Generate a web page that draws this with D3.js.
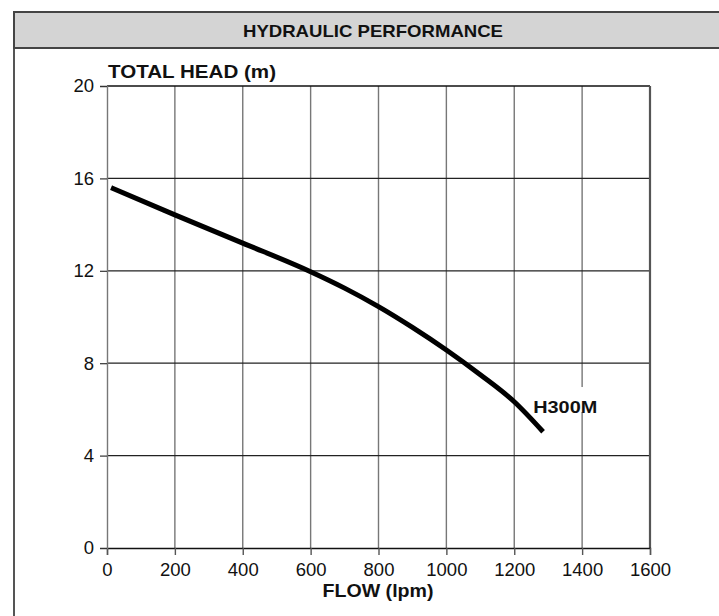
<!DOCTYPE html>
<html>
<head>
<meta charset="utf-8">
<script src="https://cdn.jsdelivr.net/npm/d3@7"></script>
<style>
  html, body { margin: 0; padding: 0; background: #fff; }
  svg { display: block; }
  text { font-family: "Liberation Sans", Arial, sans-serif; }
  .tick text { font-size: 18.5px; }
</style>
</head>
<body>
<svg id="chart" width="719" height="616"></svg>
<script>
// ---- data ----
const chartTitle = "HYDRAULIC PERFORMANCE";
const yTitle = "TOTAL HEAD (m)";
const xTitle = "FLOW (lpm)";
const seriesName = "H300M";
const flow = [12, 200, 400, 600, 700, 800, 900, 1000, 1100, 1200, 1285];
const head = [15.6, 14.42, 13.2, 11.96, 11.25, 10.45, 9.55, 8.57, 7.5, 6.33, 5.03];
const xTicks = [0, 200, 400, 600, 800, 1000, 1200, 1400, 1600];
const yTicks = [0, 4, 8, 12, 16, 20];

// ---- layout ----
const W = 719, H = 616;
const plot = { left: 107, top: 86, right: 650, bottom: 548 };

const svg = d3.select("#chart");

// outer frame and header
svg.append("rect").attr("x", 14).attr("y", 12).attr("width", W + 10).attr("height", H + 10)
  .attr("fill", "#fff").attr("stroke", "#555").attr("stroke-width", 2);
svg.append("rect").attr("x", 14).attr("y", 12).attr("width", W + 10).attr("height", 36)
  .attr("fill", "#d4d4d4").attr("stroke", "#444").attr("stroke-width", 2);
svg.append("text").attr("x", 373).attr("y", 37).attr("text-anchor", "middle")
  .attr("font-size", 17).attr("font-weight", "bold").attr("fill", "#111")
  .attr("textLength", 260).attr("lengthAdjust", "spacingAndGlyphs")
  .text(chartTitle);

const x = d3.scaleLinear().domain([0, 1600]).range([plot.left, plot.right]);
const y = d3.scaleLinear().domain([0, 20]).range([plot.bottom, plot.top]);

// vertical grid lines
svg.append("g").selectAll("line").data(xTicks.slice(1, -1)).join("line")
  .attr("x1", d => x(d)).attr("x2", d => x(d))
  .attr("y1", plot.top).attr("y2", plot.bottom)
  .attr("stroke", "#777").attr("stroke-width", 1.4);
// horizontal grid lines
svg.append("g").selectAll("line").data(yTicks.slice(1, -1)).join("line")
  .attr("x1", plot.left).attr("x2", plot.right)
  .attr("y1", d => y(d)).attr("y2", d => y(d))
  .attr("stroke", "#222").attr("stroke-width", 1.2);
// plot border
svg.append("line").attr("x1", plot.left).attr("x2", plot.right)
  .attr("y1", plot.top).attr("y2", plot.top).attr("stroke", "#111").attr("stroke-width", 1.3);
svg.append("line").attr("x1", plot.right).attr("x2", plot.right)
  .attr("y1", plot.top).attr("y2", plot.bottom).attr("stroke", "#555").attr("stroke-width", 2.2);

// axes
const xAxis = d3.axisBottom(x).tickValues(xTicks).tickSize(7).tickPadding(8).tickFormat(d3.format("d"));
const yAxis = d3.axisLeft(y).tickValues(yTicks).tickSize(7).tickPadding(6).tickFormat(d3.format("d"));

const gx = svg.append("g").attr("transform", `translate(0,${plot.bottom})`).call(xAxis);
gx.attr("font-size", 18.5).attr("font-family", "'Liberation Sans', Arial, sans-serif");
gx.select(".domain").attr("stroke", "#111").attr("stroke-width", 1.3);
gx.selectAll(".tick line").attr("stroke", "#555").attr("stroke-width", 1.4);
gx.selectAll(".tick text").attr("font-size", 18.5).attr("fill", "#111");

const gy = svg.append("g").attr("transform", `translate(${plot.left},0)`).call(yAxis);
gy.attr("font-size", 18.5).attr("font-family", "'Liberation Sans', Arial, sans-serif");
gy.select(".domain").attr("stroke", "#777").attr("stroke-width", 1.4);
gy.selectAll(".tick line").attr("stroke", "#333").attr("stroke-width", 1.2);
gy.selectAll(".tick text").attr("font-size", 18.5).attr("fill", "#111");

// axis titles
svg.append("text").attr("x", 108).attr("y", 78)
  .attr("font-size", 18).attr("font-weight", "bold").attr("fill", "#111")
  .attr("textLength", 168).attr("lengthAdjust", "spacingAndGlyphs")
  .text(yTitle);
svg.append("text").attr("x", 378).attr("y", 597).attr("text-anchor", "middle")
  .attr("font-size", 17.5).attr("font-weight", "bold").attr("fill", "#111")
  .attr("textLength", 111).attr("lengthAdjust", "spacingAndGlyphs")
  .text(xTitle);

// curve
const line = d3.line().x((d, i) => x(flow[i])).y(d => y(d)).curve(d3.curveMonotoneX);
svg.append("path").datum(head).attr("d", line)
  .attr("fill", "none").attr("stroke", "#000").attr("stroke-width", 5)
  .attr("stroke-linecap", "butt").attr("stroke-linejoin", "round");

// series label with white backing
const lx = x(1200) + 19, ly = y(5.8);
svg.append("rect").attr("x", lx - 2).attr("y", ly - 27).attr("width", 70).attr("height", 25)
  .attr("fill", "#fff");
svg.append("text").attr("x", lx).attr("y", ly - 1)
  .attr("font-size", 16.5).attr("font-weight", "bold").attr("fill", "#111")
  .attr("textLength", 64).attr("lengthAdjust", "spacingAndGlyphs")
  .text(seriesName);
</script>
</body>
</html>
